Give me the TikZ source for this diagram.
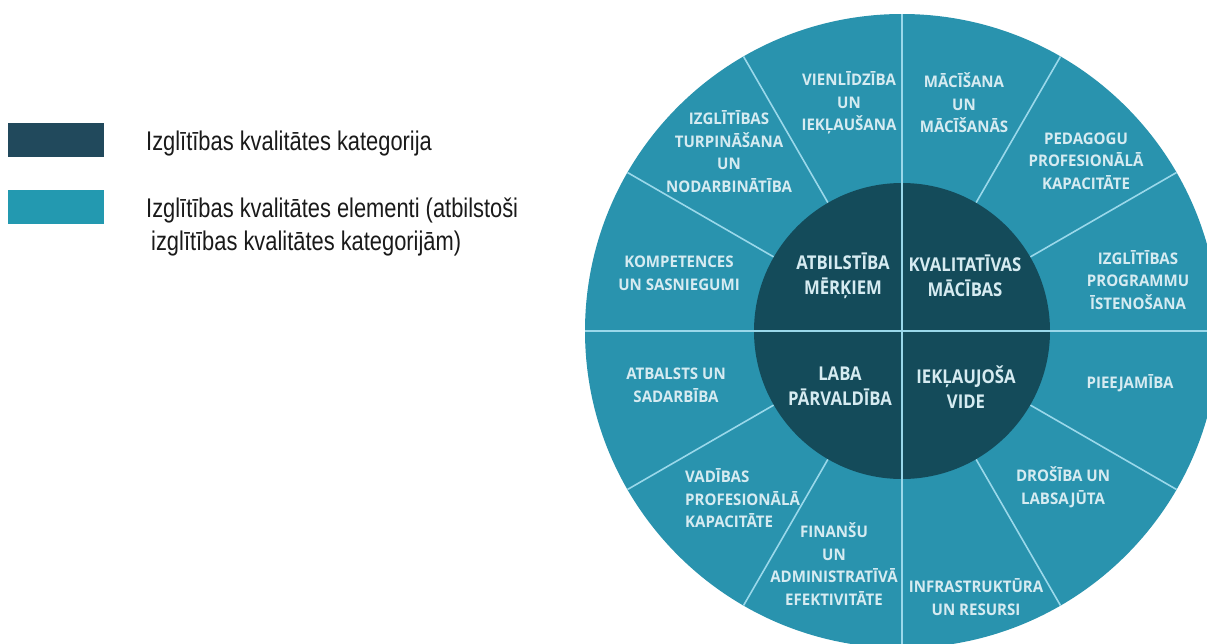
\documentclass[tikz,border=0pt]{standalone}
\usepackage{fontspec}
\usetikzlibrary{calc}
\newfontfamily\wheelfont[FakeStretch=0.94]{Open Sans Bold}
\newfontfamily\innerfont[FakeStretch=0.88]{Open Sans Bold}
\newfontfamily\legfont[FakeStretch=0.81]{Liberation Sans}
\definecolor{outerc}{HTML}{2993AE}
\definecolor{innerc}{HTML}{144B5A}
\definecolor{spokec}{HTML}{9AD8EA}
\definecolor{wtext}{HTML}{D6EBF1}
\definecolor{legdark}{HTML}{21495C}
\definecolor{leglight}{HTML}{2399B0}
\definecolor{legtxt}{HTML}{1A1A1A}
\tikzset{
  spoke/.style={draw=spokec, line width=1.6pt},
  olab/.style={text=wtext, align=center, inner sep=0pt, font=\wheelfont\fontsize{16}{22.5}\selectfont},
  ilab/.style={text=wtext, align=center, inner sep=0pt, font=\innerfont\fontsize{19}{25}\selectfont},
  legbox/.style={minimum width=96pt, minimum height=34pt, inner sep=0pt},
  legtext/.style={anchor=base west, inner sep=0pt, text=legtxt, font=\legfont\fontsize{27}{33}\selectfont}
}
\begin{document}
\begin{tikzpicture}[x=1pt,y=-1pt]
\clip (0,0) rectangle (1207,643);
\fill[white] (0,0) rectangle (1207,643);
\coordinate (C) at (902,331);
% wheel
\fill[outerc] (C) circle[radius=317];
\begin{scope}
\clip (C) circle[radius=317];
\foreach \a in {30,60,120,150,210,240,300,330}
  \draw[spoke] ($(C)+(\a:148)$) -- ($(C)+(\a:322)$);
\fill[innerc] (C) circle[radius=148];
\draw[spoke] ($(C)+(0,-325)$) -- ($(C)+(0,325)$);
\draw[spoke] ($(C)+(-325,0)$) -- ($(C)+(325,0)$);
\end{scope}
% inner labels
\node[ilab] (atb) at (843,275.5) {ATBILSTĪBA\\MĒRĶIEM};
\node[ilab] (kva) at (965,275.5) {KVALITATĪVAS\\MĀCĪBAS};
\node[ilab] (lab) at (840,386) {LABA\\PĀRVALDĪBA};
\node[ilab] (iek) at (966,387) {IEKĻAUJOŠA\\VIDE};
% outer labels
\node[olab] (vie) at (849,103) {VIENLĪDZĪBA\\UN\\IEKĻAUŠANA};
\node[olab] (mac) at (964,103) {MĀCĪŠANA\\UN\\MĀCĪŠANĀS};
\node[olab] (ped) at (1086,161) {PEDAGOGU\\PROFESIONĀLĀ\\KAPACITĀTE};
\node[olab] (pro) at (1138,280) {IZGLĪTĪBAS\\PROGRAMMU\\ĪSTENOŠANA};
\node[olab] (pie) at (1130,383) {PIEEJAMĪBA};
\node[olab] (dro) at (1063,487) {DROŠĪBA UN\\LABSAJŪTA};
\node[olab] (inf) at (976,597) {INFRASTRUKTŪRA\\UN RESURSI};
\node[olab] (fin) at (834,564) {FINANŠU\\UN\\ADMINISTRATĪVĀ\\EFEKTIVITĀTE};
\node[olab, align=left, anchor=west] (vad) at (685,498.5) {VADĪBAS\\PROFESIONĀLĀ\\KAPACITĀTE};
\node[olab] (atbal) at (676,385.5) {ATBALSTS UN\\SADARBĪBA};
\node[olab] (kom) at (679,273.5) {KOMPETENCES\\UN SASNIEGUMI};
\node[olab] (tur) at (729,151.5) {IZGLĪTĪBAS\\TURPINĀŠANA\\UN\\NODARBINĀTĪBA};
% legend
\node[legbox, fill=legdark] (boxd) at (56,140) {};
\node[legbox, fill=leglight] (boxl) at (56,207) {};
\node[legtext] (t1) at (146,150) {Izglītības kvalitātes kategorija};
\node[legtext] (t2) at (146,217) {Izglītības kvalitātes elementi (atbilstoši};
\node[legtext] (t3) at (151,250) {izglītības kvalitātes kategorijām)};
\end{tikzpicture}
\end{document}
